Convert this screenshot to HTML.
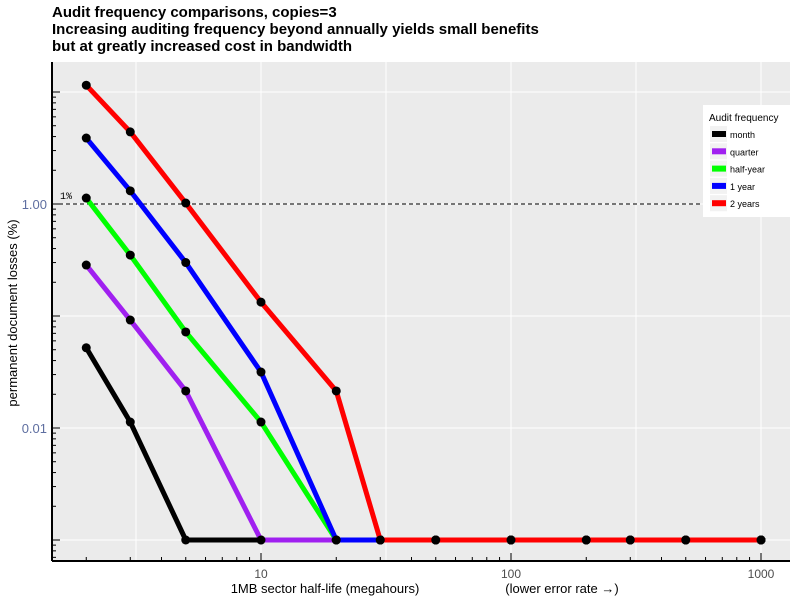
<!DOCTYPE html>
<html><head><meta charset="utf-8"><style>body{margin:0;background:#fff}svg{display:block;font-family:"Liberation Sans",sans-serif}</style></head>
<body>
<svg id="c" width="800" height="600"></svg>
<script>
const xVals=[2,3,5,10,20,30,50,100,200,300,500,1000];
const seriesNames=["month","quarter","half-year","1 year","2 years"];
const seriesColors=["#000000","#a020f0","#00ff00","#0000ff","#ff0000"];
const month=[0.052,0.0113,0.001,0.001,0.001,0.001,0.001,0.001,0.001,0.001,0.001,0.001];
const quarter=[0.285,0.092,0.0214,0.001,0.001,0.001,0.001,0.001,0.001,0.001,0.001,0.001];
const halfYear=[1.13,0.35,0.072,0.0113,0.001,0.001,0.001,0.001,0.001,0.001,0.001,0.001];
const oneYear=[3.88,1.31,0.30,0.0316,0.001,0.001,0.001,0.001,0.001,0.001,0.001,0.001];
const twoYears=[11.5,4.4,1.02,0.133,0.0214,0.001,0.001,0.001,0.001,0.001,0.001,0.001];
const xTicks=[10,100,1000];
const xTickLabels=["10","100","1000"];
const yTicks=[0.01,1];
const yTickLabels=["0.01","1.00"];
const NS="http://www.w3.org/2000/svg";
const svg=document.getElementById('c');
const L=52,R=790,T=62,B=561;
const X=v=>261+250*(Math.log10(v)-1);
const Y=v=>204-112*Math.log10(v);
function el(t,a,p){const e=document.createElementNS(NS,t);for(const k in a)e.setAttribute(k,a[k]);(p||svg).appendChild(e);return e;}
const bg=el('rect',{x:L,y:T,width:R-L,height:B-T,fill:'#ebebeb'});


const grid=el('g',{stroke:'#fff','stroke-width':1});


for(let e=0;e<=3;e+=0.5){const x=X(Math.pow(10,e));if(x>L&&x<R)el('line',{x1:x,x2:x,y1:T,y2:B},grid);}
for(let e=-3;e<=1;e++){const y=Y(Math.pow(10,e));el('line',{x1:L,x2:R,y1:y,y2:y},grid);}
// 1% reference
const ref=el('line',{x1:L,x2:R,y1:Y(1),y2:Y(1),stroke:'#000','stroke-dasharray':'4,3','stroke-width':1});


const rl=el('text',{x:60,y:Y(1)-5,'font-size':10,'font-family':'Liberation Mono,monospace'});rl.textContent='1%';


// axes
el('line',{x1:L,x2:L,y1:T,y2:B,stroke:'#000','stroke-width':2});
el('line',{x1:L,x2:R,y1:B,y2:B,stroke:'#000','stroke-width':2});
for(let d=0;d<4;d++)for(let m=1;m<10;m++){const v=m*Math.pow(10,d);const x=X(v);if(x<=L||x>=R)continue;el('line',{x1:x,x2:x,y1:B,y2:B-(m==1?8:4),stroke:'#000'});}
for(let d=-4;d<2;d++)for(let m=1;m<10;m++){const v=m*Math.pow(10,d);const y=Y(v);if(y<=T||y>=B)continue;el('line',{x1:L,x2:L+(m==1?8:4),y1:y,y2:y,stroke:'#000'});}
xTicks.forEach((v,i)=>{const t=el('text',{x:X(v),y:578,'font-size':12,'text-anchor':'middle',fill:'#4d4d4d'});t.textContent=xTickLabels[i];

});
yTicks.forEach((v,i)=>{const t=el('text',{x:47,y:Y(v)+5,'font-size':13,'text-anchor':'end',fill:'#5e6ea0'});t.textContent=yTickLabels[i];

});
const xt=el('text',{x:325,y:593,'font-size':13,'text-anchor':'middle'});xt.textContent='1MB sector half-life (megahours)';


const xt2=el('text',{x:562,y:593,'font-size':13,'text-anchor':'middle'});xt2.textContent='(lower error rate →)';


const yt=el('text',{x:0,y:0,'font-size':13,'text-anchor':'middle',transform:'translate(17,313) rotate(-90)'});yt.textContent='permanent document losses (%)';


// series
const all=[month,quarter,halfYear,oneYear,twoYears];
all.forEach((s,i)=>{const g=el('g',{});


el('polyline',{points:s.map((v,j)=>X(xVals[j])+','+Y(v)).join(' '),fill:'none',stroke:seriesColors[i],'stroke-width':5,'stroke-linejoin':'round'},g);
s.forEach((v,j)=>{const c=el('circle',{cx:X(xVals[j]),cy:Y(v),r:4.5,fill:'#000'},g);

});});
// legend
const lg=el('g',{});


el('rect',{x:703,y:105,width:91,height:112,fill:'#fff'},lg);
const lt=el('text',{x:709,y:121,'font-size':10},lg);lt.textContent='Audit frequency';
seriesNames.forEach((n,i)=>{const y=126+i*17.3;
const it=el('g',{},lg);


el('rect',{x:710,y:y,width:17,height:16,fill:'#f2f2f2'},it);
el('rect',{x:712,y:y+5,width:14,height:6,fill:seriesColors[i]},it);
const t=el('text',{x:730,y:y+12,'font-size':9},it);t.textContent=n;});
// title
['Audit frequency comparisons, copies=3','Increasing auditing frequency beyond annually yields small benefits','but at greatly increased cost in bandwidth'].forEach((s,i)=>{
const t=el('text',{x:52,y:17+i*17,'font-size':15,'font-weight':'bold'});t.textContent=s;

});
</script>
</body></html>
